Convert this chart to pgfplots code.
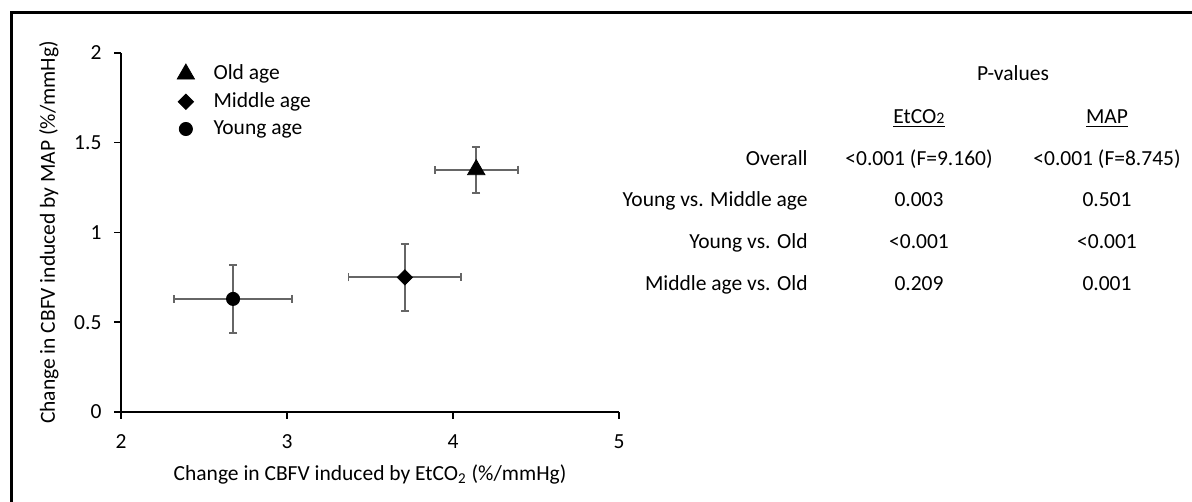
\documentclass[border=0pt]{standalone}
\usepackage{fontspec}
\setmainfont{Carlito}
\usepackage{pgfplots}
\pgfplotsset{compat=1.18}
\begin{document}
\fontsize{10.75}{13}\selectfont
\begin{tikzpicture}
\useasboundingbox (0,0) rectangle (596pt,251pt);
\draw[line width=1.5pt] (5.5pt,-2pt) -- (5.5pt,244.5pt) -- (598pt,244.5pt);
\begin{axis}[
 at={(60.5pt,45pt)}, anchor=south west,
 scale only axis, width=249pt, height=179.5pt,
 xmin=2, xmax=5, ymin=0, ymax=2,
 xtick={2,3,4,5}, ytick={0,0.5,1,1.5,2},
 axis lines=left, axis line style={-, line width=0.75pt},
 tick align=outside, major tick length=3.5pt, tick style={black, line width=0.75pt},
 /pgf/number format/assume math mode=true,
 tick label style={font=\fontsize{10.75}{13}\selectfont},
 yticklabel style={xshift=-2.5pt},
 xticklabel style={yshift=-4pt},
 xlabel={Change in CBFV induced by EtCO\textsubscript{2} (\%/mmHg)},
 ylabel={Change in CBFV induced by MAP (\%/mmHg)},
 label style={font=\fontsize{10.75}{13}\selectfont},
 xlabel style={at={(axis description cs:0.5,-0.19)}, anchor=base},
 ylabel style={at={(axis description cs:-0.133,0.5)}, anchor=base},
 clip=false,
 legend style={at={(axis description cs:0.1,0.99)}, anchor=north west, draw=none, fill=none,
   font=\fontsize{10.75}{13}\selectfont, row sep=0.8pt,
   /tikz/every odd column/.append style={column sep=7.5pt}},
 legend cell align=left,
 error bars/error bar style={color=black!60, line width=0.9pt},
 error bars/error mark options={color=black!60, line width=0.9pt, mark size=2pt, rotate=90},
]
\addlegendimage{only marks, mark=triangle*, black, mark size=5pt}
\addlegendentry{Old age}
\addlegendimage{only marks, mark=square*, mark options={rotate=45}, black, mark size=2.7pt}
\addlegendentry{Middle age}
\addlegendimage{only marks, mark=*, black, mark size=3.3pt}
\addlegendentry{Young age}

\addplot[forget plot, only marks, mark=*, black, mark size=3.3pt,
  error bars/.cd, x dir=both, x explicit, y dir=both, y explicit]
  coordinates {(2.675,0.63) +- (0.355,0.19)};
\addplot[forget plot, only marks, mark=square*, mark options={rotate=45}, black, mark size=2.7pt,
  error bars/.cd, x dir=both, x explicit, y dir=both, y explicit]
  coordinates {(3.71,0.75) +- (0.34,0.186)};
\addplot[forget plot, only marks, mark=triangle*, black, mark size=5pt,
  error bars/.cd, x dir=both, x explicit, y dir=both, y explicit]
  coordinates {(4.14,1.35) +- (0.25,0.128)};
\end{axis}
\node[anchor=base] at (506.5pt,210.6pt) {P-values};
\node[anchor=base] at (459.5pt,189.2pt) {\underline{EtCO{\fontsize{8}{8}\selectfont 2}}};
\node[anchor=base] at (553.5pt,189.2pt) {\underline{MAP}};
\node[anchor=base east, inner sep=0pt] at (404pt,168.4pt) {Overall};
\node[anchor=base east, inner sep=0pt] at (404pt,147.6pt) {Young vs. Middle age};
\node[anchor=base east, inner sep=0pt] at (404pt,126.8pt) {Young vs. Old};
\node[anchor=base east, inner sep=0pt] at (404pt,105.9pt) {Middle age vs. Old};
\node[anchor=base] at (459.5pt,168.4pt) {<0.001 (F=9.160)};
\node[anchor=base] at (553.5pt,168.4pt) {<0.001 (F=8.745)};
\node[anchor=base] at (459.5pt,147.6pt) {0.003};
\node[anchor=base] at (553.5pt,147.6pt) {0.501};
\node[anchor=base] at (459.5pt,126.8pt) {<0.001};
\node[anchor=base] at (553.5pt,126.8pt) {<0.001};
\node[anchor=base] at (459.5pt,105.9pt) {0.209};
\node[anchor=base] at (553.5pt,105.9pt) {0.001};
\end{tikzpicture}
\end{document}
